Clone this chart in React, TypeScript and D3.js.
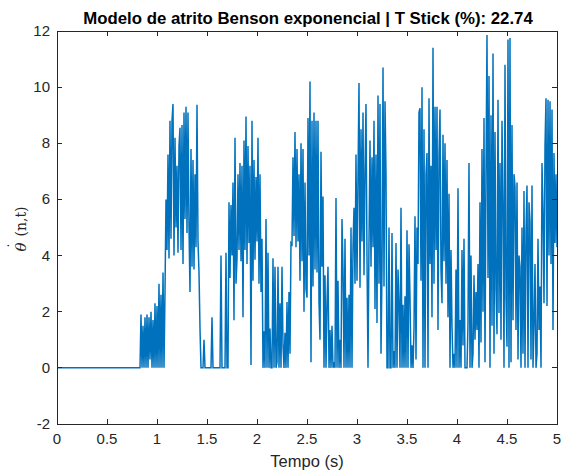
import React from "react";
import * as d3 from "d3";

// Sampling step of the recorded signal (s)
const SAMPLE_STEP = 0.01;

// Angular speed samples (every 0.01 s from 0 to 5 s)
const omega: number[] = [
  0, 0, 0, 0, 0, 0, 0, 0, 0, 0,
  0, 0, 0, 0, 0, 0, 0, 0, 0, 0,
  0, 0, 0, 0, 0, 0, 0, 0, 0, 0,
  0, 0, 0, 0, 0, 0, 0, 0, 0, 0,
  0, 0, 0, 0, 0, 0, 0, 0, 0, 0,
  0, 0, 0, 0, 0, 0, 0, 0, 0, 0,
  0, 0, 0, 0, 0, 0, 0, 0, 0, 0,
  0, 0, 0, 0, 0, 0, 0, 0, 0, 0,
  0, 0, 0, 0, 1.9, 0, 1.5, 0, 1.8, 0,
  1.9, 0, 1.8, 0.3, 2.0, 0, 1.7, 0, 2.3, 0,
  2.2, 0, 3.0, 0, 2.6, 0, 3.4, 0, 2.7, 6.0,
  4.2, 7.6, 3.9, 8.8, 4.6, 8.8, 9.4, 4.0, 8.2, 5.0,
  7.2, 4.1, 7.9, 8.55, 4.2, 8.65, 3.7, 9.1, 5.3, 9.3,
  4.8, 9.1, 5.0, 2.7, 7.8, 3.6, 7.4, 3.5, 6.9, 4.3,
  9.37, 4.5, 3.4, 1.4, 0, 0, 0, 1.0, 0, 0,
  0, 0, 0, 0, 0, 1.8, 0, 0, 0, 0,
  0, 0, 0, 0, 4.0, 0, 0, 0, 0, 4.1,
  0, 0, 5.9, 3.2, 5.8, 4.0, 6.6, 1.7, 8.2, 3.0,
  3.9, 6.9, 4.2, 7.3, 3.8, 7.2, 1.8, 8.1, 4.2, 8.95,
  3.7, 7.9, 4.45, 7.2, 0.1, 8.8, 3.1, 7.4, 3.85, 6.8,
  4.5, 8.2, 3.0, 6.9, 2.7, 4.6, 0, 1.3, 0, 5.3,
  0, 4.1, 0, 1.4, 0, 0, 3.9, 0, 3.6, 0,
  0.2, 3.6, 0, 2.3, 0, 3.6, 0.8, 0, 1.25, 0,
  2.35, 0, 2.7, 0.5, 4.45, 4.4, 7.5, 4.7, 8.4, 4.3,
  7.8, 4.5, 6.9, 3.1, 8.0, 3.8, 7.8, 2.0, 6.6, 2.8,
  2.5, 8.9, 4.0, 10.2, 0.2, 8.8, 2.9, 9.1, 3.5, 8.8,
  3.4, 8.8, 2.35, 1.0, 7.7, 3.6, 6.1, 0, 3.3, 0,
  2.35, 3.6, 0, 1.35, 0, 1.5, 0, 0.2, 0, 6.05,
  0, 3.1, 0, 1.0, 0, 5.3, 3.5, 0, 4.6, 0,
  2.5, 0, 2.6, 0, 5.0, 0, 4.3, 5.7, 3.0, 7.6,
  3.1, 6.8, 10.15, 2.85, 8.5, 4.5, 9.1, 3.3, 7.0, 9.4,
  3.9, 0, 4.5, 8.1, 3.6, 7.5, 4.3, 8.8, 2.1, 7.6,
  1.6, 9.7, 3.0, 9.4, 0.5, 3.5, 10.7, 2.9, 9.5, 6.9,
  0, 0, 5.0, 0, 0, 4.8, 0, 0.6, 0, 4.45,
  0, 3.5, 2.25, 0, 5.7, 0, 2.25, 0, 2.55, 0,
  4.9, 0, 4.4, 2.5, 0, 0.8, 0, 1.4, 5.4, 0.3,
  5.0, 3.7, 9.1, 9.25, 3.1, 10.0, 0, 8.5, 0, 6.9,
  7.65, 0, 9.6, 3.7, 7.2, 1.8, 11.4, 3.0, 9.3, 4.2,
  9.3, 1.35, 7.6, 9.2, 3.5, 2.3, 8.3, 3.8, 8.0, 3.0,
  7.4, 1.8, 6.2, 0, 4.2, 1.5, 0, 0.5, 0, 3.5,
  0, 6.4, 0, 1.7, 0, 4.2, 0.8, 4.6, 0, 0,
  0, 1.6, 7.3, 0, 4.0, 0, 0.5, 3.3, 1.0, 2.7,
  1.35, 3.7, 0, 5.9, 0.9, 7.8, 2.0, 8.9, 0.2, 7.0,
  11.86, 3.2, 10.4, 0, 9.0, 1.5, 11.2, 0.5, 8.4, 2.8,
  1.2, 9.55, 1.95, 7.3, 1.0, 8.8, 5.9, 0, 10.8, 2.5,
  0.75, 11.7, 0, 11.75, 0.2, 8.65, 1.7, 6.9, 6.45, 1.35,
  6.6, 0.3, 4.0, 3.6, 0, 5.0, 0.5, 6.3, 0, 4.85,
  6.5, 0, 5.9, 5.2, 0.3, 6.5, 0, 1.5, 3.7, 0,
  0.5, 4.6, 1.35, 2.9, 0, 7.3, 5.6, 2.3, 7.9, 9.6,
  2.2, 9.55, 4.0, 9.5, 3.7, 9.2, 1.35, 7.65, 4.45, 6.9,
  4.3,
];

const xTicks: number[] = [0, 0.5, 1, 1.5, 2, 2.5, 3, 3.5, 4, 4.5, 5];
const xTickLabels: string[] = ["0", "0.5", "1", "1.5", "2", "2.5", "3", "3.5", "4", "4.5", "5"];
const yTicks: number[] = [-2, 0, 2, 4, 6, 8, 10, 12];
const yTickLabels: string[] = ["-2", "0", "2", "4", "6", "8", "10", "12"];

const titleText = "Modelo de atrito Benson exponencial | T Stick (%): 22.74";
const xLabelText = "Tempo (s)";
const yLabelSymbol = "θ";
const yLabelArgs = "(n,t)";

const W = 567;
const H = 475;
const M = { left: 57, right: 557, top: 31, bottom: 424 };
const AXIS_COLOR = "#262626";
const LINE_COLOR = "#0072BD";
const FONT = "'Liberation Sans', Arial, Helvetica, sans-serif";
const SERIF = "'DejaVu Serif', 'Liberation Serif', serif";

export default function App() {
  const x = d3.scaleLinear().domain([0, 5]).range([M.left, M.right]);
  const y = d3.scaleLinear().domain([-2, 12]).range([M.bottom, M.top]);

  const pts: [number, number][] = omega.map((v, i) => [i * SAMPLE_STEP, v]);
  const line = d3
    .line<[number, number]>()
    .x((d) => x(d[0]))
    .y((d) => y(d[1]));

  const tickLen = 5;
  const yMid = (M.top + M.bottom) / 2;

  return (
    <svg
      width={W}
      height={H}
      style={{ position: "absolute", left: 0, top: 0, background: "#fff" }}
      fontFamily={FONT}
    >
      <rect x={0} y={0} width={W} height={H} fill="#fff" />
      <defs>
        <clipPath id="plotClip">
          <rect x={M.left} y={M.top} width={M.right - M.left} height={M.bottom - M.top} />
        </clipPath>
      </defs>

      <path
        d={line(pts) || ""}
        fill="none"
        stroke={LINE_COLOR}
        strokeWidth={1.5}
        strokeLinejoin="miter"
        clipPath="url(#plotClip)"
      />

      {/* Box */}
      <rect
        x={M.left}
        y={M.top}
        width={M.right - M.left}
        height={M.bottom - M.top}
        fill="none"
        stroke={AXIS_COLOR}
        strokeWidth={1}
        shapeRendering="crispEdges"
      />

      {/* X ticks */}
      {xTicks.map((t, i) => (
        <g key={"xt" + i}>
          <line x1={x(t)} x2={x(t)} y1={M.bottom} y2={M.bottom - tickLen} stroke={AXIS_COLOR} shapeRendering="crispEdges" />
          <line x1={x(t)} x2={x(t)} y1={M.top} y2={M.top + tickLen} stroke={AXIS_COLOR} shapeRendering="crispEdges" />
          <text x={x(t)} y={M.bottom + 20} textAnchor="middle" fontSize={15} fill={AXIS_COLOR}>
            {xTickLabels[i]}
          </text>
        </g>
      ))}

      {/* Y ticks */}
      {yTicks.map((t, i) => (
        <g key={"yt" + i}>
          <line x1={M.left} x2={M.left + tickLen} y1={y(t)} y2={y(t)} stroke={AXIS_COLOR} shapeRendering="crispEdges" />
          <line x1={M.right} x2={M.right - tickLen} y1={y(t)} y2={y(t)} stroke={AXIS_COLOR} shapeRendering="crispEdges" />
          <text x={M.left - 7} y={y(t) + 5} textAnchor="end" fontSize={15} fill={AXIS_COLOR}>
            {yTickLabels[i]}
          </text>
        </g>
      ))}

      {/* X label */}
      <text x={(M.left + M.right) / 2} y={H - 8} textAnchor="middle" fontSize={16.5} fill={AXIS_COLOR}>
        {xLabelText}
      </text>

      {/* Y label (LaTeX-like: dotted theta followed by (n,t)) */}
      <g transform={`translate(26, ${yMid}) rotate(-90)`} fill={AXIS_COLOR} fontFamily={SERIF}>
        <text x={-24} y={0} textAnchor="start" fontSize={15} fontStyle="italic">
          {yLabelSymbol}
        </text>
        <text x={-18} y={-7} textAnchor="middle" fontSize={15}>
          ˙
        </text>
        <text x={-9} y={0} textAnchor="start" fontSize={14}>
          {yLabelArgs}
        </text>
      </g>

      {/* Title */}
      <text x={(M.left + M.right) / 2 + 1} y={24} textAnchor="middle" fontSize={16.8} fontWeight="bold" fill="#000">
        {titleText}
      </text>
    </svg>
  );
}
